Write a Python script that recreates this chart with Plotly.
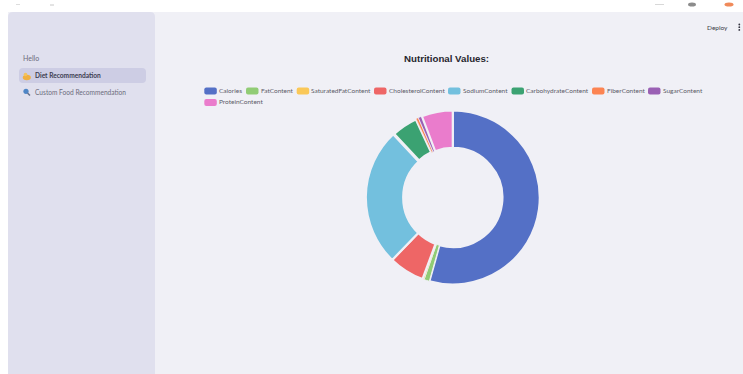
import plotly.graph_objects as go

WIDTH, HEIGHT = 743, 374

# Nutrition breakdown shown in the donut
nutrients = ["Calories", "FatContent", "SaturatedFatContent", "CholesterolContent", "SodiumContent",
             "CarbohydrateContent", "FiberContent", "SugarContent", "ProteinContent"]
amounts = [535, 10, 3, 65, 254, 49, 4.5, 7, 57]
slice_colors = ["#5470c6", "#91cc75", "#fac858", "#ee6666", "#73c0de",
                "#3ba272", "#fc8452", "#9a60b4", "#ea7ccc"]
# Thin slices get a finer separator so they stay visible
slice_gaps = [2.2, 1.0, 0.6, 2.2, 2.2, 3.2, 0.6, 0.8, 2.2]

# Legend layout: swatch left edge and row for each nutrient
legend_x = [204.3, 246, 296.7, 374, 448, 511.5, 592, 648, 204.3]
legend_row_y = [91, 91, 91, 91, 91, 91, 91, 91, 102.5]

page_title = "Nutritional Values:"
nav_items = ["Diet Recommendation", "Custom Food Recommendation"]

BG = "#f0f0f6"
SIDEBAR = "#e0e0ee"
FONT = "Lato, 'Noto Sans', sans-serif"


def px(x):
    return x / WIDTH


def py(y):
    return 1 - y / HEIGHT


def rect(x0, y0, x1, y1, color):
    return dict(type="rect", xref="paper", yref="paper", x0=px(x0), x1=px(x1), y0=py(y0), y1=py(y1),
                fillcolor=color, line_width=0, layer="below")


def rounded(x0, y0, x1, y1, r, color, layer="below"):
    path = (f"M {px(x0 + r)} {py(y0)} L {px(x1 - r)} {py(y0)} Q {px(x1)} {py(y0)} {px(x1)} {py(y0 + r)} "
            f"L {px(x1)} {py(y1 - r)} Q {px(x1)} {py(y1)} {px(x1 - r)} {py(y1)} "
            f"L {px(x0 + r)} {py(y1)} Q {px(x0)} {py(y1)} {px(x0)} {py(y1 - r)} "
            f"L {px(x0)} {py(y0 + r)} Q {px(x0)} {py(y0)} {px(x0 + r)} {py(y0)} Z")
    return dict(type="path", xref="paper", yref="paper", path=path, fillcolor=color, line_width=0, layer=layer)


def dot(cx, cy, r, color, ry=None):
    ry = r if ry is None else ry
    return dict(type="circle", xref="paper", yref="paper", x0=px(cx - r), x1=px(cx + r),
                y0=py(cy + ry), y1=py(cy - ry), fillcolor=color, line_width=0, layer="above")


def stroke(x0, y0, x1, y1, color, width):
    return dict(type="line", xref="paper", yref="paper", x0=px(x0), x1=px(x1), y0=py(y0), y1=py(y1),
                line=dict(color=color, width=width), layer="above")


def label(x, y, text, size, color, anchor="left", family=FONT):
    # Annotations carry about 2px of inner padding on the left
    shift = -2 if anchor == "left" else 0
    return dict(xref="paper", yref="paper", x=px(x + shift), y=py(y), text=text, showarrow=False,
                xanchor=anchor, yanchor="middle", font=dict(size=size, color=color, family=family))


fig = go.Figure(go.Pie(
    labels=nutrients,
    values=amounts,
    hole=0.57,
    sort=False,
    direction="clockwise",
    rotation=0,
    textinfo="none",
    showlegend=False,
    marker=dict(colors=slice_colors, line=dict(color=BG, width=slice_gaps)),
    domain=dict(x=[px(452.8 - 87), px(452.8 + 87)], y=[py(197.5 + 87), py(197.5 - 87)]),
))

shapes = [
    rect(8, 12, 743, 374, BG),
    rounded(8, 12, 155, 420, 5, SIDEBAR),
    rounded(19, 68, 146, 83, 4, "#cdcde4"),
    # Sidebar icons
    dot(26.8, 77.5, 4, "#f0b040", 2.8),
    dot(25.5, 74.5, 1.8, "#f5c35a"),
    dot(26, 91.3, 2.6, "#4f86c6"),
    stroke(27.5, 93, 30, 95.5, "#66728c", 1.5),
    # Header menu dots
    dot(739.3, 24.5, 0.9, "#33333f"),
    dot(739.3, 27.2, 0.9, "#33333f"),
    dot(739.3, 29.9, 0.9, "#33333f"),
    # Window controls along the top edge
    dot(692, 4.5, 4, "#8c8c8c", 2),
    dot(729, 4.5, 4.5, "#f08a5a", 2),
    stroke(655, 4.5, 664, 4.5, "#d8d8d8", 1),
    stroke(50, 5, 54, 5, "#c8c8c8", 1),
    stroke(16, 4.5, 20, 4.5, "#dddddd", 1),
]

annotations = [
    label(446.5, 58.5, f"<b>{page_title}</b>", 9.7, "#26262e", "center", "Liberation Sans, Arial, sans-serif"),
    label(22.5, 58.5, "Hello", 7, "#6c6c7c"),
    label(34.5, 75, f"<b>{nav_items[0]}</b>", 6.6, "#3c3c50"),
    label(34.5, 92, nav_items[1], 6.6, "#6c6c7c"),
    label(717, 27.5, "Deploy", 6.5, "#3c3c48", "center"),
]

# Hand-placed legend so rows wrap across the page width
for name, color, x, y in zip(nutrients, slice_colors, legend_x, legend_row_y):
    shapes.append(rounded(x, y - 3.5, x + 12.5, y + 3.5, 2, color, layer="above"))
    annotations.append(label(x + 14.7, y - 0.5, name, 6.5, "#5c5c68"))

fig.update_layout(
    width=WIDTH,
    height=HEIGHT,
    margin=dict(l=0, r=0, t=0, b=0),
    paper_bgcolor="#ffffff",
    shapes=shapes,
    annotations=annotations,
)

fig.write_html("out.html", config=dict(displayModeBar=False))
